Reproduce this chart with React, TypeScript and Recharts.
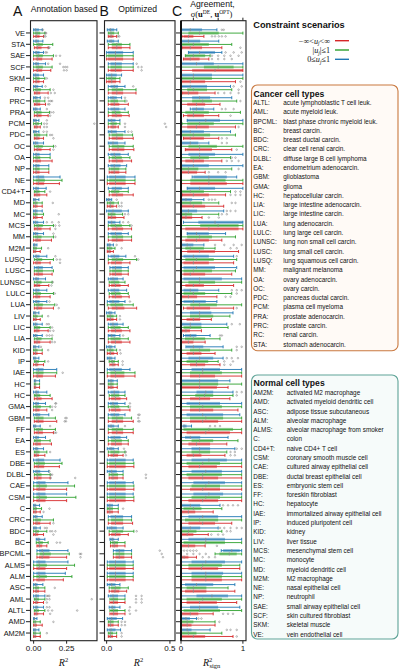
import React from 'react';
import { ComposedChart, Bar, XAxis, YAxis } from 'recharts';

type Box = [number, number, number, number, number]; // [whiskerLow, q1, median, q3, whiskerHigh]

const cellTypes = ['VE','STA','SAE','SCF','SKM','RC','PRC','PRA','PCM','PDC','OC','OA','NP','NE','CD4+T','MD','MC','MCS','MM','M2M','LUSQ','LUSC','LUNSC','LULC','LUA','LIV','LIC','LIA','KID','IP','IAE','HC','HC','GMA','GBM','FF','EA','ES','DBE','DLBL','CAE','CSM','C','CRC','BDC','BC','BPCML','ALMS','ALM','ASC','AML','ALTL','AMD','AM2M'];

// ---------- Panel A: annotation based R^2 ----------
const annotBlue: Box[] = [
[0,.005,.015,.04,.065],[0,.01,.02,.04,.07],[0,.01,.02,.045,.075],[0,.01,.02,.04,.09],[0,.005,.015,.04,.075],
[0,.005,.015,.035,.065],[0,.005,.015,.03,.05],[0,.005,.015,.03,.05],[0,.005,.01,.025,.04],[0,.005,.01,.025,.04],
[0,.005,.015,.035,.075],[0,.01,.02,.045,.125],[0,.01,.02,.045,.115],[0,.015,.035,.08,.2],[0,.01,.02,.04,.095],
[0,.005,.01,.02,.04],[0,.005,.015,.03,.065],[0,.005,.015,.035,.075],[0,.005,.015,.035,.075],[0,.003,.008,.015,.025],
[0,.01,.02,.045,.1],[.005,.015,.035,.07,.14],[0,.01,.02,.04,.09],[0,.01,.02,.045,.1],[0,.01,.02,.045,.1],
[0,.004,.01,.02,.04],[0,.005,.015,.03,.065],[0,.005,.015,.03,.065],[0,.004,.01,.02,.04],[0,.004,.01,.02,.04],
[0,.015,.035,.075,.175],[.005,.008,.012,.02,.045],[0,.01,.02,.04,.1],[0,.01,.02,.04,.09],[0,.01,.025,.05,.115],
[0,.004,.01,.02,.05],[0,.01,.02,.04,.09],[0,.01,.02,.035,.075],[0,.015,.035,.08,.2],[0,.01,.025,.05,.115],
[0,.02,.04,.09,.26],[0,.02,.04,.09,.25],[0,.004,.01,.02,.045],[0,.005,.015,.03,.065],[0,.005,.01,.025,.05],
[.02,.025,.035,.05,.085],[.025,.04,.065,.12,.26],[0,.02,.04,.09,.26],[0,.02,.04,.09,.24],[0,.005,.015,.03,.07],
[0,.01,.02,.04,.085],[0,.01,.02,.035,.075],[0,.003,.006,.012,.025],[0,.004,.01,.02,.04]];
const annotGreen: Box[] = [
[0,.01,.025,.05,.085],[0,.02,.04,.07,.145],[0,.015,.035,.07,.15],[0,.015,.035,.07,.14],[0,.01,.02,.045,.085],
[0,.01,.025,.055,.125],[0,.01,.025,.05,.085],[.005,.015,.03,.06,.12],[0,.01,.02,.04,.06],[.005,.01,.025,.05,.1],
[.005,.015,.035,.07,.15],[0,.01,.025,.05,.125],[0,.01,.02,.045,.115],[0,.015,.04,.085,.215],[.005,.01,.025,.045,.085],
[0,.005,.015,.03,.065],[0,.005,.015,.03,.075],[.005,.015,.035,.07,.15],[0,.01,.03,.06,.15],[0,.005,.01,.025,.06],
[.005,.015,.03,.065,.15],[.005,.015,.035,.07,.15],[.005,.015,.03,.06,.14],[0,.01,.025,.055,.15],[.005,.015,.035,.07,.16],
[0,.005,.015,.03,.065],[.005,.01,.025,.05,.125],[.005,.015,.03,.06,.14],[0,.005,.015,.03,.065],[.005,.01,.02,.04,.085],
[0,.015,.035,.075,.175],[.005,.008,.012,.02,.045],[.005,.01,.025,.05,.125],[0,.01,.025,.055,.125],[.005,.015,.035,.075,.165],
[.005,.015,.035,.07,.165],[.005,.01,.025,.055,.125],[.005,.01,.025,.045,.1],[.005,.015,.04,.085,.215],[.005,.015,.03,.06,.125],
[0,.02,.045,.1,.31],[0,.02,.045,.1,.32],[0,.005,.012,.025,.06],[0,.01,.025,.055,.15],[0,.01,.02,.04,.1],
[.02,.03,.045,.07,.11],[.025,.045,.075,.13,.27],[0,.02,.045,.1,.31],[0,.02,.045,.1,.29],[0,.01,.02,.04,.085],
[.005,.01,.02,.04,.085],[.005,.01,.02,.04,.085],[0,.005,.01,.02,.05],[0,.005,.01,.02,.05]];
const annotRed: Box[] = [
[0,.01,.02,.045,.075],[.005,.015,.03,.06,.11],[0,.015,.03,.065,.14],[0,.015,.03,.065,.13],[0,.01,.02,.045,.075],
[.005,.01,.025,.05,.11],[.005,.01,.025,.05,.09],[.005,.015,.03,.06,.11],[.005,.01,.02,.035,.05],[.005,.01,.025,.045,.075],
[.005,.015,.03,.06,.125],[0,.01,.025,.055,.14],[0,.01,.02,.045,.115],[0,.015,.035,.08,.195],[.005,.01,.025,.05,.1],
[0,.005,.015,.03,.065],[0,.005,.015,.03,.065],[.005,.01,.03,.06,.125],[0,.01,.025,.055,.135],[0,.005,.01,.02,.05],
[0,.01,.025,.055,.125],[.005,.015,.035,.07,.14],[.005,.01,.025,.05,.115],[0,.01,.025,.05,.125],[.005,.015,.03,.065,.15],
[0,.005,.012,.025,.05],[.005,.01,.025,.045,.11],[.005,.01,.025,.05,.125],[0,.005,.015,.03,.065],[0,.01,.02,.035,.075],
[0,.015,.03,.07,.165],[.005,.008,.012,.02,.045],[.005,.015,.03,.06,.14],[0,.01,.02,.045,.1],[.005,.015,.035,.075,.175],
[.005,.015,.035,.07,.15],[0,.01,.025,.055,.135],[.005,.01,.02,.04,.085],[.005,.015,.035,.08,.195],[.005,.015,.03,.06,.125],
[0,.02,.04,.09,.25],[0,.02,.04,.09,.25],[0,.005,.012,.025,.05],[0,.01,.025,.05,.125],[0,.005,.015,.035,.075],
[.025,.03,.045,.065,.1],[.025,.04,.065,.12,.25],[0,.02,.04,.09,.25],[0,.02,.04,.085,.225],[0,.01,.02,.04,.085],
[0,.01,.02,.035,.075],[.005,.01,.02,.035,.075],[0,.005,.012,.025,.065],[0,.005,.01,.02,.05]];
const annotBlueOut: number[][] = [
[.07],[],[.09,.1],[.11,.2],[],[.09],[.085,.11],[.1],[.1],[.075,.1],[],[],[],[],[],[],[],[.1,.14,.19],[.15],[],
[.165],[],[],[],[.12],[],[.1,.115],[.1,.12,.14],[.055],[],[],[],[],[.165,.17],[],[.125],[],[],[],[.12],
[],[],[],[],[.085,.1],[],[],[],[],[],[.1,.11,.12],[.1,.12],[],[]];
const annotGreenOut: number[][] = [
[.09,.095],[],[.17,.2],[.225,.24,.255],[.1],[.15],[.115,.13,.14],[.13,.15],[.08,.1,.46],[.125,.14],[.165],[],[],[],[.125],[.145],[.19],[.165,.195],[.165],[.11],
[.175,.2],[],[.145],[.16],[.175],[.11],[.14],[],[.11],[.11],[.22],[],[],[.14,.165],[.24,.25],[],[],[.125],[],[.13,.14],
[],[],[.12],[],[.125,.14,.165],[.175,.2],[.35,.36],[],[],[.16],[.1,.12,.44],[.11,.14,.33],[.15],[.1]];
const annotRedOut: number[][] = [
[.08,.09],[.115,.12],[],[.23,.25],[],[.13,.16],[.11,.12],[.125],[.08,.1],[.15],[.15],[],[],[],[],[],[],[.165],[],[],
[.2],[],[.135],[],[.19],[],[.125,.15],[.14,.16],[],[],[],[],[],[.14],[.235,.245],[.16,.17],[],[],[],[.13,.315],
[],[],[.075],[.15],[.15],[],[.355],[],[],[],[.1],[.125],[],[]];

// ---------- Panel B: optimized R^2 ----------
const optBlue: Box[] = [
[.005,.015,.03,.06,.08],[.005,.015,.035,.06,.092],[0,.01,.07,.13,.21],[.013,.03,.07,.12,.21],[0,.01,.04,.08,.118],
[.013,.03,.06,.09,.145],[.013,.025,.05,.08,.118],[.013,.03,.06,.1,.145],[.013,.02,.04,.07,.105],[.013,.02,.04,.08,.145],
[.013,.02,.05,.09,.145],[.013,.03,.06,.11,.171],[.013,.03,.06,.11,.158],[.005,.02,.07,.15,.224],[.013,.04,.07,.12,.171],
[0,.005,.015,.03,.04],[0,.01,.05,.12,.171],[.013,.02,.04,.07,.105],[.013,.03,.07,.12,.171],[.005,.01,.02,.035,.053],
[.013,.03,.06,.1,.152],[.026,.04,.07,.12,.171],[.013,.025,.05,.09,.13],[.013,.03,.06,.1,.158],[.005,.02,.05,.1,.145],
[0,.01,.025,.045,.066],[.013,.025,.05,.09,.13],[.013,.02,.04,.07,.105],[0,.01,.025,.045,.066],[.005,.01,.025,.045,.066],
[.005,.02,.06,.12,.184],[.013,.02,.035,.055,.084],[.013,.03,.06,.1,.145],[.013,.025,.05,.09,.145],[.013,.03,.06,.1,.145],
[.013,.02,.035,.06,.092],[.013,.03,.06,.11,.158],[.005,.015,.035,.06,.092],[.005,.02,.07,.15,.21],[.005,.015,.04,.08,.13],
[.005,.02,.07,.15,.21],[.005,.02,.07,.15,.21],[.005,.01,.025,.05,.092],[.013,.03,.07,.13,.197],[.005,.015,.04,.08,.13],
[.026,.03,.045,.06,.092],[.053,.07,.1,.14,.197],[.005,.02,.07,.15,.21],[.005,.02,.07,.15,.21],[.005,.015,.04,.07,.105],
[.013,.025,.05,.09,.145],[.02,.03,.045,.07,.105],[.005,.015,.04,.08,.126],[.005,.015,.035,.07,.11]];
const optGreen: Box[] = [
[.013,.02,.035,.06,.092],[.013,.04,.08,.12,.184],[0,.01,.07,.13,.21],[.013,.03,.07,.12,.21],[0,.01,.04,.075,.105],
[.013,.04,.08,.13,.232],[.013,.03,.06,.09,.145],[.013,.04,.07,.11,.171],[.013,.03,.05,.08,.105],[.02,.04,.08,.13,.205],
[.02,.04,.09,.14,.21],[.02,.04,.07,.12,.184],[.02,.03,.06,.1,.152],[.005,.02,.07,.15,.224],[.02,.035,.065,.1,.171],
[.005,.015,.03,.06,.092],[.013,.02,.04,.07,.126],[.013,.03,.07,.12,.184],[.013,.04,.08,.13,.197],[.005,.01,.025,.045,.066],
[.013,.04,.08,.13,.237],[.026,.04,.07,.12,.171],[.02,.03,.06,.1,.145],[.02,.035,.07,.11,.171],[.005,.03,.07,.13,.21],
[.005,.012,.03,.055,.079],[.013,.03,.06,.11,.171],[.013,.03,.06,.11,.171],[.005,.015,.03,.055,.079],[.02,.03,.045,.065,.092],
[.005,.03,.07,.14,.224],[.013,.02,.035,.055,.084],[.02,.035,.06,.1,.145],[.013,.03,.06,.1,.171],[.013,.04,.08,.13,.197],
[.013,.04,.08,.13,.21],[.013,.035,.07,.12,.171],[.013,.03,.06,.1,.145],[.005,.02,.07,.15,.215],[.02,.03,.05,.09,.13],
[.005,.02,.07,.15,.215],[.005,.02,.07,.15,.215],[.005,.01,.025,.05,.092],[.013,.035,.07,.13,.197],[.02,.04,.08,.13,.215],
[.03,.04,.06,.09,.145],[.053,.07,.1,.14,.197],[.005,.02,.07,.15,.21],[.005,.02,.07,.15,.21],[.02,.035,.07,.11,.171],
[.026,.035,.055,.09,.145],[.026,.035,.055,.09,.145],[.013,.02,.03,.055,.092],[.013,.02,.03,.05,.079]];
const optRed: Box[] = [
[.013,.02,.035,.055,.079],[.013,.04,.08,.12,.184],[0,.01,.07,.13,.21],[.013,.03,.07,.12,.21],[0,.01,.04,.075,.105],
[.013,.04,.08,.13,.232],[.013,.03,.06,.1,.171],[.013,.04,.075,.12,.178],[.013,.03,.05,.075,.092],[.02,.04,.08,.13,.21],
[.02,.04,.09,.14,.215],[.02,.04,.08,.13,.197],[.02,.03,.06,.1,.152],[.005,.02,.07,.15,.224],[.02,.04,.08,.13,.21],
[.005,.015,.03,.055,.079],[.013,.02,.04,.075,.137],[.013,.04,.08,.13,.197],[.013,.04,.08,.13,.197],[.005,.01,.02,.035,.053],
[.013,.035,.07,.12,.184],[.026,.04,.07,.12,.171],[.02,.035,.07,.11,.171],[.02,.04,.07,.12,.178],[.013,.04,.08,.14,.237],
[.005,.012,.03,.055,.079],[.013,.035,.07,.12,.184],[.013,.035,.07,.12,.184],[.005,.015,.03,.06,.084],[.026,.035,.05,.07,.092],
[.005,.03,.07,.14,.224],[.013,.02,.035,.055,.084],[.02,.035,.07,.11,.158],[.02,.035,.07,.11,.184],[.013,.04,.08,.13,.21],
[.013,.04,.08,.13,.21],[.013,.035,.07,.12,.171],[.013,.03,.055,.09,.13],[.005,.02,.07,.15,.215],[.02,.03,.05,.09,.13],
[.005,.02,.07,.15,.215],[.005,.02,.07,.15,.215],[.005,.01,.025,.05,.092],[.013,.035,.07,.13,.205],[.02,.035,.07,.11,.171],
[.03,.04,.06,.09,.145],[.053,.07,.1,.14,.197],[.005,.02,.07,.15,.21],[.005,.02,.07,.15,.21],[.02,.035,.065,.1,.158],
[.026,.035,.055,.09,.145],[.026,.035,.055,.09,.145],[.013,.02,.03,.055,.092],[.013,.02,.03,.05,.079]];
const optBlueOut: number[][] = [
[],[],[],[.237],[],[.21],[.145],[],[],[.171,.197],[],[],[],[],[],[.079],[],[.13,.171],[],[.079],
[.224],[],[],[],[.184],[],[],[.13],[],[],[],[],[],[.184],[.25,.26],[.145],[],[.137],[],[],
[],[],[],[],[],[],[.42],[],[],[],[.232,.276],[.184],[],[]];
const optGreenOut: number[][] = [
[],[],[],[.25,.276],[],[],[.158],[],[.145,.46],[],[],[],[],[],[],[.118],[.145,.171],[.197],[],[.118],
[.25],[],[],[],[],[.105],[],[],[.105],[.126],[],[],[],[.184],[.25],[],[],[.152],[],[.31],
[],[],[.13],[],[.237],[],[.435],[],[],[],[.232,.276],[.178,.232],[.118,.145],[.118]];
const optRedOut: number[][] = [
[.09,.1],[],[],[.276],[],[],[],[],[.145,.47],[],[],[],[],[],[],[.1,.118],[],[],[],[],
[],[],[],[],[],[.105],[],[],[.11],[.126],[],[],[],[],[.25,.26],[],[],[.152],[],[.31],
[],[],[],[],[],[],[.445],[],[],[],[.232,.276],[.184],[.118,.145],[.118]];

// ---------- Panel C: agreement R^2_sign ----------
const agreeBlue: Box[] = [
[0,0,.15,.34,.58],[0,0,.12,.31,.61],[.12,.12,.3,.55,.66],[0,0,.25,.53,1],[0,0,.2,.5,1],
[0,0,.15,.42,.8],[0,.18,.3,.47,.82],[.15,.18,.25,.37,.53],[.1,.1,.4,.63,1],[0,0,.15,.37,.8],
[0,0,.15,.28,.45],[0,.12,.3,.55,1],[0,0,.2,.45,1],[.18,.2,.45,.74,.9],[.1,.1,.3,.55,1],
[0,0,.08,.18,.37],[0,0,.12,.26,.69],[.04,.28,.55,1,1],[.1,.1,.25,.45,.72],[0,0,.1,.2,.37],
[0,.04,.2,.45,.85],[0,.04,.25,.55,.9],[0,.04,.3,.66,.98],[0,.04,.15,.28,.61],[0,.04,.2,.4,.58],
[0,.145,.3,.49,.84],[0,0,.15,.33,.74],[.04,.065,.15,.25,.47],[.08,.09,.2,.36,.68],[0,.12,.3,.52,.68],
[0,.17,.35,.63,.98],[0,0,.3,.6,.79],[0,.25,.4,.52,.84],[0,.09,.3,.63,.98],[0,.09,.35,.68,.95],
[0,.03,.05,.09,.17],[0,.065,.15,.31,.76],[0,.17,.3,.47,.87],[0,.17,.45,.74,.98],[0,.17,.4,.66,.98],
[0,.2,.45,.71,.98],[0,.2,.45,.68,.98],[0,0,.15,.31,.63],[0,.12,.35,.6,.98],[0,0,.15,.31,.6],
[0,.12,.4,.71,.98],[.65,.68,.82,.95,.98],[0,.17,.4,.71,.98],[0,.17,.4,.68,.98],[0,.065,.25,.52,.87],
[0,.25,.5,.76,.98],[0,.145,.3,.6,.95],[0,0,.08,.145,.25],[0,0,.1,.17,.47]];
const agreeGreen: Box[] = [
[0,.12,.3,.61,1],[0,.016,.2,.45,.82],[.07,.07,.2,.39,.47],[0,.37,.6,.85,1],[0,0,.2,.5,1],
[0,.1,.2,.42,.82],[0,.18,.35,.5,.9],[0,.07,.2,.45,.96],[.016,.1,.3,.53,1],[0,0,.2,.47,.88],
[0,.12,.3,.58,1],[0,.15,.3,.45,.8],[0,0,.12,.28,.82],[0,.15,.45,.72,1],[0,0,.15,.37,.8],
[0,0,.15,.34,.61],[0,0,.08,.18,.61],[0,.31,.6,.93,1],[0,.1,.3,.5,.88],[0,.07,.15,.37,.55],
[0,.07,.25,.53,.9],[0,.04,.2,.5,.88],[0,.12,.3,.55,.98],[0,.04,.2,.39,.82],[0,.15,.3,.58,.98],
[0,.145,.3,.52,.79],[0,.04,.15,.33,.76],[0,.065,.2,.39,.63],[0,.145,.3,.47,.82],[0,.09,.25,.44,.6],
[0,.145,.35,.66,.98],[0,0,.3,.6,.98],[0,.23,.38,.52,.84],[0,.145,.35,.66,.98],[0,.145,.4,.68,.98],
[0,.04,.45,.84,.98],[0,.17,.3,.52,.92],[0,.17,.3,.47,.74],[0,.09,.35,.63,.98],[0,.09,.35,.66,.98],
[0,.17,.4,.63,.98],[0,.17,.4,.63,.98],[0,.04,.2,.33,.66],[0,.065,.3,.6,.98],[0,0,.12,.25,.66],
[0,.04,.4,.71,.98],[.55,.62,.78,.9,.98],[0,.12,.35,.66,.95],[0,.17,.4,.66,.98],[0,.09,.2,.41,.76],
[0,.09,.35,.66,.98],[0,.04,.3,.63,.98],[0,0,.1,.2,.55],[0,0,.12,.25,.66]];
const agreeRed: Box[] = [
[.016,.04,.12,.2,.37],[.016,.02,.15,.34,.66],[.04,.05,.15,.3,.45],[0,.18,.55,1,1],[0,0,.15,.39,.88],
[.016,.02,.12,.28,.55],[0,.1,.25,.39,.63],[.04,.1,.2,.37,.61],[0,.1,.25,.45,.88],[.04,.04,.15,.37,.61],
[.07,.07,.3,.5,.82],[0,.07,.2,.37,.66],[0,0,.12,.26,.39],[0,.15,.45,.74,1],[.016,.016,.2,.45,.72],
[0,0,.2,.39,.69],[0,0,.08,.18,.34],[0,.07,.45,.93,1],[0,.07,.25,.45,.66],[0,.1,.3,.55,.93],
[0,.04,.2,.45,.85],[0,.04,.15,.39,.82],[0,.07,.2,.37,.85],[0,.016,.12,.26,.58],[.04,.09,.2,.47,.85],
[0,.09,.2,.31,.49],[0,0,.08,.145,.33],[0,0,.12,.2,.39],[0,.09,.2,.33,.55],[0,.145,.25,.39,.63],
[0,.145,.3,.55,.98],[0,0,.3,.58,.76],[0,.145,.3,.47,.79],[0,.145,.3,.52,.92],[0,.145,.35,.6,.98],
[0,.09,.4,.79,.98],[0,.12,.25,.47,.74],[0,.09,.2,.33,.71],[0,.12,.3,.58,.98],[0,.12,.35,.6,.98],
[0,.145,.35,.63,.98],[0,.12,.35,.6,.98],[0,0,.12,.23,.52],[0,.12,.35,.55,.82],[0,0,.1,.2,.44],
[0,0,.12,.23,.39],[0,.01,.05,.12,.25],[0,.12,.33,.6,.95],[0,.17,.4,.66,.98],[0,.065,.2,.41,.87],
[0,.09,.3,.58,.9],[0,0,.15,.28,.52],[0,0,.1,.17,.55],[0,.01,.2,.39,.84]];
const agreeBlueOut: number[][] = [
[.66,.69],[],[.72,.85,.98],[],[],[.85,.98],[],[.66,.72,.85],[],[],[.66,.74],[],[],[],[],[.45,.5,.55],[.74,.8,.88],[],[],[.55,.7,.85,.98],
[.9],[],[],[.82,.9,.98],[],[],[.82,.95],[.63,.66],[.9,.98],[.74,.82,.92],[],[],[.9,.98],[],[],[.47,.55,.63],[],[.9,.98],[],[],
[],[],[.68,.76,.84,.92],[],[.63,.7,.8,.9,.98],[],[0,.05,.1,.15,.2,.25],[],[],[],[],[],[.28,.33],[.74,.8,.9]];
const agreeGreenOut: number[][] = [
[],[],[.5,.6,.7,.8,.93],[],[],[.93],[.96],[],[],[],[],[.82,.88],[.93],[],[.88,.96],[.82,.88],[.66,.74],[],[],[.8,.9],
[],[],[],[.9],[],[],[],[],[.9],[.7,.84],[],[],[.9],[],[],[],[],[.8,.87],[],[],
[],[],[],[],[.74,.8],[],[.1,.2,.3,.4],[],[],[],[],[],[.62],[]];
const agreeRedOut: number[][] = [
[.5,.55,.61,.66,.72],[.96],[.5,.6,.7,.82],[],[.96],[.6,.7,.8,.93],[],[.8],[.93],[.66,.74],[.9],[.74,.82,.93],[.45,.6,.72],[],[.8,.88,.96],[],[.45,.61],[],[],[],
[],[],[],[.72,.8],[.9],[],[],[],[],[.7,.8],[],[],[],[],[],[],[],[.8,.87],[],[],
[],[],[],[],[.49,.6,.68],[.58],[.35,.45,.55],[],[],[],[],[.68,.76,.84],[],[.9]];

// ---------- Legend boxes ----------
const cancerTypes: [string, string][] = [
['ALTL:','acute lymphoblastic T cell leuk.'],['AML:','acute myeloid leuk.'],['BPCML:','blast phase chronic myeloid leuk.'],
['BC:','breast carcin.'],['BDC:','breast ductal carcin.'],['CRC:','clear cell renal carcin.'],['DLBL:','diffuse large B cell lymphoma'],
['EA:','endometrium adenocarcin.'],['GBM:','glioblastoma'],['GMA:','glioma'],['HC:','hepatocellular carcin.'],
['LIA:','large intestine adenocarcin.'],['LIC:','large intestine carcin.'],['LUA:','lung adenocarcin.'],['LULC:','lung large cell carcin.'],
['LUNSC:','lung non small cell carcin.'],['LUSC:','lung small cell carcin.'],['LUSQ:','lung squamous cell carcin.'],['MM:','malignant melanoma'],
['OA:','ovary adenocarcin.'],['OC:','ovary carcin.'],['PDC:','pancreas ductal carcin.'],['PCM:','plasma cell myeloma'],
['PRA:','prostate adenocarcin.'],['PRC:','prostate carcin.'],['RC:','renal carcin.'],['STA:','stomach adenocarcin.']];
const normalTypes: [string, string][] = [
['AM2M:','activated M2 macrophage'],['AMD:','activated myeloid dendritic cell'],['ASC:','adipose tissue subcutaneous'],
['ALM:','alveolar macrophage'],['ALMS:','alveolar macrophage from smoker'],['C:','colon'],['CD4+T:','naive CD4+ T cell'],
['CSM:','coronary smooth muscle cell'],['CAE:','cultured airway epithelial cell'],['DBE:','ductal breast epithelial cell'],
['ES:','embryonic stem cell'],['FF:','foreskin fibroblast'],['HC:','hepatocyte'],['IAE:','immortalized airway epithelial cell'],
['IP:','induced pluripotent cell'],['KID:','kidney'],['LIV:','liver tissue'],['MCS:','mesenchymal stem cell'],['MC:','monocyte'],
['MD:','myeloid dendritic cell'],['M2M:','M2 macrophage'],['NE:','nasal epithelial cell'],['NP:','neutrophil'],
['SAE:','small airway epithelial cell'],['SCF:','skin cultured fibroblast'],['SKM:','skeletal muscle'],['VE:','vein endothelial cell']];

const BLUE = '#1f77b4', GREEN = '#2ca02c', RED = '#d62728';
const LIGHT: Record<string, string> = { [BLUE]: '#8fbbd9', [GREEN]: '#95cf95', [RED]: '#ea9393' };
const SANS = 'Liberation Sans, Arial, Helvetica, sans-serif';
const SERIF = 'Liberation Serif, DejaVu Serif, serif';

function buildRows(b: Box[], g: Box[], r: Box[], bo: number[][], go: number[][], ro: number[][]) {
  return cellTypes.map((label, i) => ({ i, label, b: b[i], g: g[i], r: r[i], bo: bo[i], go: go[i], ro: ro[i] }));
}
const rowsA = buildRows(annotBlue, annotGreen, annotRed, annotBlueOut, annotGreenOut, annotRedOut);
const rowsB = buildRows(optBlue, optGreen, optRed, optBlueOut, optGreenOut, optRedOut);
const rowsC = buildRows(agreeBlue, agreeGreen, agreeRed, agreeBlueOut, agreeGreenOut, agreeRedOut);

const makeShape = (key: 'b' | 'g' | 'r', color: string) => (props: any) => {
  const { x, y, width, height, payload } = props;
  const box: Box = payload[key];
  const out: number[] = payload[key + 'o'] || [];
  const lo = box[0], hi = box[4];
  const px = (v: number) => x + ((v - lo) / (hi - lo)) * width;
  const cy = y + height / 2;
  const q1 = px(box[1]), q3 = px(box[3]), md = px(box[2]);
  return (
    <g>
      <rect x={q1} y={y} width={Math.max(q3 - q1, 0.3)} height={height} fill={LIGHT[color]} />
      <line x1={px(lo)} x2={px(hi)} y1={cy} y2={cy} stroke={color} strokeWidth={0.9} />
      <line x1={px(lo)} x2={px(lo)} y1={y} y2={y + height} stroke={color} strokeWidth={0.9} />
      <line x1={px(hi)} x2={px(hi)} y1={y} y2={y + height} stroke={color} strokeWidth={0.9} />
      <line x1={md} x2={md} y1={y} y2={y + height} stroke="#8a8a8a" strokeWidth={0.8} />
      {out.map((o, k) => (
        <circle key={k} cx={px(o)} cy={cy} r={0.8} fill="none" stroke="#777" strokeWidth={0.5} />
      ))}
    </g>
  );
};
const blueShape = makeShape('b', BLUE);
const greenShape = makeShape('g', GREEN);
const redShape = makeShape('r', RED);

type PanelProps = {
  left: number; width: number; rows: any[]; domain: [number, number]; ticks: number[];
  fmt: (v: number) => string; yWidth: number; labels: boolean; topTicks?: number[];
};

function Panel({ left, width, rows, domain, ticks, fmt, yWidth, labels, topTicks }: PanelProps) {
  return (
    <div style={{ position: 'absolute', left, top: 0 }}>
      <ComposedChart
        width={width}
        height={670}
        data={rows}
        layout="vertical"
        margin={{ top: topTicks ? 18.7 : 20.7, right: 3, bottom: 13.3, left: 0 }}
        barCategoryGap={1}
        barGap={0.3}
      >
        <XAxis
          type="number"
          domain={domain}
          ticks={ticks}
          tickFormatter={fmt}
          allowDataOverflow
          axisLine={false}
          tickSize={3}
          tickMargin={1.5}
          height={16}
          interval={0}
          stroke="#222"
          tick={{ fontSize: 8, fill: '#111', fontFamily: SANS }}
        />
        {topTicks && (
          <XAxis
            xAxisId="top"
            orientation="top"
            type="number"
            domain={domain}
            ticks={topTicks}
            tickFormatter={() => ''}
            allowDataOverflow
            axisLine={false}
            tickSize={3}
            height={2}
            stroke="#222"
          />
        )}
        <YAxis
          type="category"
          dataKey="i"
          width={yWidth}
          interval={0}
          axisLine={false}
          tickSize={5}
          tickMargin={1}
          stroke="#222"
          padding={{ top: 6.6, bottom: 2 }}
          tickFormatter={(v: any) => (labels ? cellTypes[Number(v)] : '')}
          tick={{ fontSize: 7.4, fill: '#111', fontFamily: SANS }}
        />
        <Bar dataKey={(d: any) => [d.b[0], d.b[4]]} shape={blueShape} isAnimationActive={false} />
        <Bar dataKey={(d: any) => [d.g[0], d.g[4]]} shape={greenShape} isAnimationActive={false} />
        <Bar dataKey={(d: any) => [d.r[0], d.r[4]]} shape={redShape} isAnimationActive={false} />
      </ComposedChart>
    </div>
  );
}

function Overlay() {
  const rowH = 9.29;
  return (
    <svg width={399} height={670} style={{ position: 'absolute', left: 0, top: 0, pointerEvents: 'none' }}>
      {/* panel frames */}
      <rect x={30.5} y={20.7} width={66.5} height={620} fill="none" stroke="#222" strokeWidth={1.1} />
      <rect x={104.5} y={20.7} width={70.5} height={620} fill="none" stroke="#222" strokeWidth={1.1} />
      <rect x={181} y={20.7} width={65} height={620} fill="none" stroke="#222" strokeWidth={1.1} />
      <line x1={181} x2={181} y1={20.7} y2={640.7} stroke="#111" strokeWidth={2} />

      {/* panel titles */}
      <text x={13} y={15.5} fontSize={14} fontFamily={SANS} fill="#111">A</text>
      <text x={30.7} y={12} fontSize={8.6} fontFamily={SANS} fill="#111">Annotation based</text>
      <text x={99.5} y={15.5} fontSize={14} fontFamily={SANS} fill="#111">B</text>
      <text x={118.3} y={12} fontSize={8.6} fontFamily={SANS} fill="#111">Optimized</text>
      <text x={172} y={15.5} fontSize={14} fontFamily={SANS} fill="#111">C</text>
      <text x={212.5} y={7.3} fontSize={8.6} fontFamily={SANS} fill="#111" textAnchor="middle">Agreement,</text>
      <text x={211.5} y={17.3} fontSize={8.5} fontFamily={SERIF} fill="#111" textAnchor="middle">
        σ(<tspan fontWeight="bold">u</tspan><tspan fontSize={5.5} dy={-3}>DE</tspan><tspan dy={3}>, </tspan>
        <tspan fontWeight="bold">u</tspan><tspan fontSize={5.5} dy={-3}>OPT</tspan><tspan dy={3}>)</tspan>
      </text>

      {/* axis titles */}
      <text x={63.5} y={665.5} fontSize={10} fontFamily={SERIF} fill="#111" textAnchor="middle">
        <tspan fontStyle="italic">R</tspan><tspan fontSize={6.5} dy={-4}>2</tspan>
      </text>
      <text x={138.5} y={665.5} fontSize={10} fontFamily={SERIF} fill="#111" textAnchor="middle">
        <tspan fontStyle="italic">R</tspan><tspan fontSize={6.5} dy={-4}>2</tspan>
      </text>
      <text x={203} y={665.5} fontSize={10} fontFamily={SERIF} fill="#111">
        <tspan fontStyle="italic">R</tspan><tspan fontSize={6.5} dy={-4}>2</tspan>
      </text>
      <text x={209.5} y={668} fontSize={6.5} fontFamily={SERIF} fill="#111">sign</text>

      {/* constraint legend */}
      <text x={253.3} y={28.3} fontSize={9.2} fontWeight="bold" fontFamily={SANS} fill="#111">Constraint scenarios</text>
      <text x={330} y={43.5} fontSize={8.2} fontFamily={SERIF} fill="#111" textAnchor="end">
        −∞&lt;<tspan fontStyle="italic">u</tspan><tspan fontSize={5.5} fontStyle="italic" dy={1.8}>j</tspan><tspan dy={-1.8}>&lt;∞</tspan>
      </text>
      <line x1={335} x2={349} y1={40.7} y2={40.7} stroke={RED} strokeWidth={1.4} />
      <text x={330} y={52.8} fontSize={8.2} fontFamily={SERIF} fill="#111" textAnchor="end">
        |<tspan fontStyle="italic">u</tspan><tspan fontSize={5.5} fontStyle="italic" dy={1.8}>j</tspan><tspan dy={-1.8}>|≤1</tspan>
      </text>
      <line x1={335} x2={349} y1={50} y2={50} stroke={GREEN} strokeWidth={1.4} />
      <text x={330} y={62.1} fontSize={8.2} fontFamily={SERIF} fill="#111" textAnchor="end">
        0≤<tspan fontStyle="italic">u</tspan><tspan fontSize={5.5} fontStyle="italic" dy={1.8}>j</tspan><tspan dy={-1.8}>≤1</tspan>
      </text>
      <line x1={335} x2={349} y1={59.3} y2={59.3} stroke={BLUE} strokeWidth={1.4} />

      {/* cancer cell types */}
      <rect x={251.5} y={85} width={146.5} height={265.7} rx={6} fill="#fffaf6" stroke="#c9783f" strokeWidth={1.1} />
      <text x={253.5} y={96.5} fontSize={8.6} fontWeight="bold" fontFamily={SANS} fill="#111">Cancer cell types</text>
      {cancerTypes.map(([a, d], k) => (
        <g key={k}>
          <text x={253.3} y={105 + k * rowH} fontSize={6.4} fontFamily={SANS} fill="#111">{a}</text>
          <text x={283.3} y={105 + k * rowH} fontSize={6.4} fontFamily={SANS} fill="#111">{d}</text>
        </g>
      ))}

      {/* normal cell types */}
      <rect x={251.5} y={375} width={146.5} height={264} rx={6} fill="#f6fbfa" stroke="#5ea397" strokeWidth={1.1} />
      <text x={253.5} y={386} fontSize={8.6} fontWeight="bold" fontFamily={SANS} fill="#111">Normal cell types</text>
      {normalTypes.map(([a, d], k) => (
        <g key={k}>
          <text x={253.3} y={395 + k * rowH} fontSize={6.4} fontFamily={SANS} fill="#111">{a}</text>
          <text x={286.7} y={395 + k * rowH} fontSize={6.4} fontFamily={SANS} fill="#111">{d}</text>
        </g>
      ))}
    </svg>
  );
}

export default function App() {
  return (
    <div style={{ position: 'absolute', left: 0, top: 0, width: 399, height: 670, overflow: 'hidden', background: '#fff' }}>
      <Panel left={0} width={100} rows={rowsA} domain={[-0.02, 0.48]} ticks={[0, 0.25]} fmt={(v) => v.toFixed(2)} yWidth={31} labels />
      <Panel left={99} width={79} rows={rowsB} domain={[-0.017, 0.54]} ticks={[0, 0.5]} fmt={(v) => v.toFixed(1)} yWidth={5.5} labels={false} />
      <Panel left={175} width={74} rows={rowsC} domain={[0, 1.05]} ticks={[0, 1]} fmt={(v) => String(v)} yWidth={6} labels={false} topTicks={[0.2, 0.6, 1]} />
      <Overlay />
    </div>
  );
}
